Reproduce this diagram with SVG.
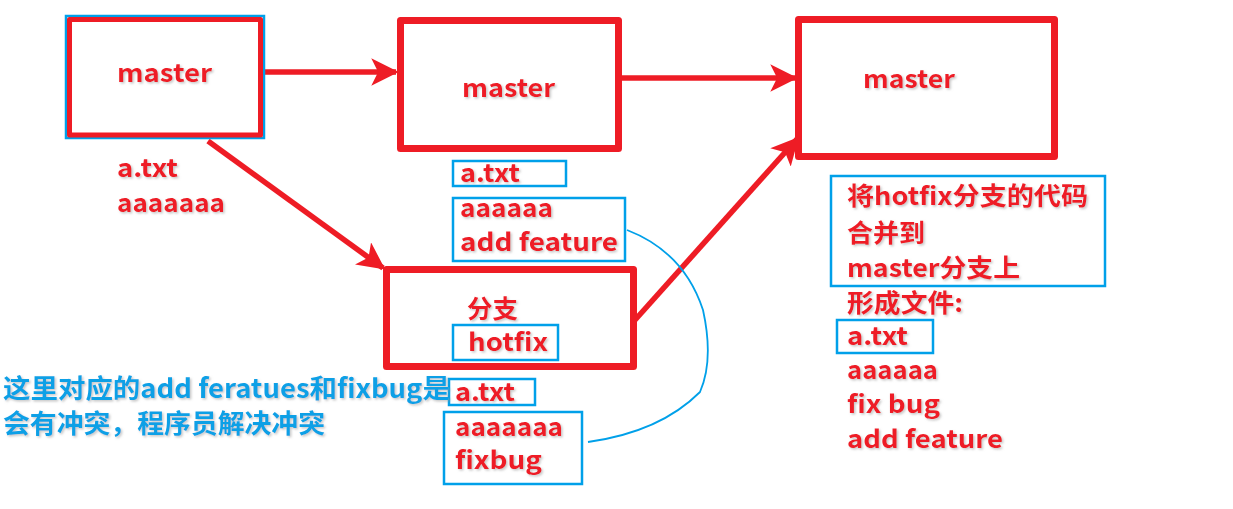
<svg xmlns="http://www.w3.org/2000/svg" width="1233" height="509" viewBox="0 0 1233 509">
<style>
.box{fill:none;stroke:#ee1c25;stroke-linejoin:round}
.bl{fill:none;stroke:#00a0e9;stroke-width:2.5}
.t{font-family:"Noto Sans CJK SC","Noto Sans",sans-serif;font-weight:bold;font-size:25px;fill:#ee1c25;filter:url(#sh)}
.bt{font-family:"Noto Sans CJK SC","Noto Sans",sans-serif;font-weight:bold;font-size:26px;fill:#0aa0e6;filter:url(#sh)}
.ar{fill:none;stroke:#ee1c25;stroke-width:5.5}
</style>
<defs>
<filter id="sh" x="-5%" y="-20%" width="115%" height="150%">
<feDropShadow dx="1.5" dy="1.5" stdDeviation="1" flood-color="#999" flood-opacity="0.55"/>
</filter>
<marker id="ah" viewBox="0 0 10 10" refX="9" refY="5" markerWidth="5" markerHeight="5" orient="auto" markerUnits="strokeWidth">
<path d="M0,0 L10,5 L0,10 L2.5,5 Z" fill="#ee1c25"/>
</marker>
</defs>
<rect width="1233" height="509" fill="#fff"/>
<g id="connectors">
<line class="ar" x1="264" y1="72" x2="396" y2="72" marker-end="url(#ah)"/>
<line class="ar" x1="622" y1="78" x2="795" y2="78" marker-end="url(#ah)"/>
<line class="ar" x1="208" y1="141" x2="383" y2="268" marker-end="url(#ah)"/>
<line class="ar" x1="635" y1="320" x2="797" y2="139" marker-end="url(#ah)"/>
<path d="M627,230 Q684,252 703,310 Q714,360 700,392 Q660,432 588,442" fill="none" stroke="#00a0e9" stroke-width="1.8"/>
</g>
<g id="node-master1">
<rect class="bl" x="66" y="16" width="198" height="122"/>
<rect class="box" x="69.5" y="19.5" width="191" height="115.5" stroke-width="5"/>
<text class="t" x="117" y="82" textLength="95" lengthAdjust="spacingAndGlyphs">master</text>
<text class="t" x="117" y="177" textLength="61" lengthAdjust="spacingAndGlyphs">a.txt</text>
<text class="t" x="117" y="212" textLength="108" lengthAdjust="spacingAndGlyphs">aaaaaaa</text>
</g>
<g id="node-master2">
<rect class="box" x="400.5" y="20.5" width="218" height="128" stroke-width="7"/>
<text class="t" x="462" y="97" textLength="93" lengthAdjust="spacingAndGlyphs">master</text>
<rect class="bl" x="453" y="161" width="113" height="25"/>
<text class="t" x="460" y="182" textLength="60" lengthAdjust="spacingAndGlyphs">a.txt</text>
<rect class="bl" x="453" y="198" width="172" height="63"/>
<text class="t" x="460" y="217" textLength="93" lengthAdjust="spacingAndGlyphs">aaaaaa</text>
<text class="t" x="460" y="251" textLength="158" lengthAdjust="spacingAndGlyphs">add feature</text>
</g>
<g id="node-master3">
<rect class="box" x="798.5" y="19.5" width="256" height="137" stroke-width="7"/>
<text class="t" x="863" y="88" textLength="92" lengthAdjust="spacingAndGlyphs">master</text>
<rect class="bl" x="831" y="176" width="274" height="110"/>
<text class="t" x="847" y="205" textLength="241" lengthAdjust="spacingAndGlyphs">将hotfix分支的代码</text>
<text class="t" x="847" y="242" textLength="78" lengthAdjust="spacingAndGlyphs">合并到</text>
<text class="t" x="847" y="277" textLength="173" lengthAdjust="spacingAndGlyphs">master分支上</text>
<text class="t" x="847" y="312" textLength="116" lengthAdjust="spacingAndGlyphs">形成文件:</text>
<rect class="bl" x="837" y="320" width="96" height="33"/>
<text class="t" x="847" y="345" textLength="61" lengthAdjust="spacingAndGlyphs">a.txt</text>
<text class="t" x="847" y="379" textLength="91" lengthAdjust="spacingAndGlyphs">aaaaaa</text>
<text class="t" x="847" y="413" textLength="93" lengthAdjust="spacingAndGlyphs">fix bug</text>
<text class="t" x="847" y="448" textLength="156" lengthAdjust="spacingAndGlyphs">add feature</text>
</g>
<g id="node-hotfix">
<rect class="box" x="386.5" y="269.5" width="247" height="97" stroke-width="7"/>
<text class="t" x="467" y="318" textLength="51" lengthAdjust="spacingAndGlyphs">分支</text>
<rect class="bl" x="453" y="325" width="105" height="35"/>
<text class="t" x="468" y="351" textLength="80" lengthAdjust="spacingAndGlyphs">hotfix</text>
<rect class="bl" x="449" y="379" width="86" height="26"/>
<text class="t" x="455" y="401" textLength="60" lengthAdjust="spacingAndGlyphs">a.txt</text>
<rect class="bl" x="444" y="412" width="138" height="72"/>
<text class="t" x="455" y="436" textLength="108" lengthAdjust="spacingAndGlyphs">aaaaaaa</text>
<text class="t" x="455" y="469" textLength="87" lengthAdjust="spacingAndGlyphs">fixbug</text>
</g>
<g id="note">
<text class="bt" x="3" y="398" textLength="447" lengthAdjust="spacingAndGlyphs">这里对应的add feratues和fixbug是</text>
<text class="bt" x="3" y="433" textLength="322" lengthAdjust="spacingAndGlyphs">会有冲突，程序员解决冲突</text>
</g>
</svg>
